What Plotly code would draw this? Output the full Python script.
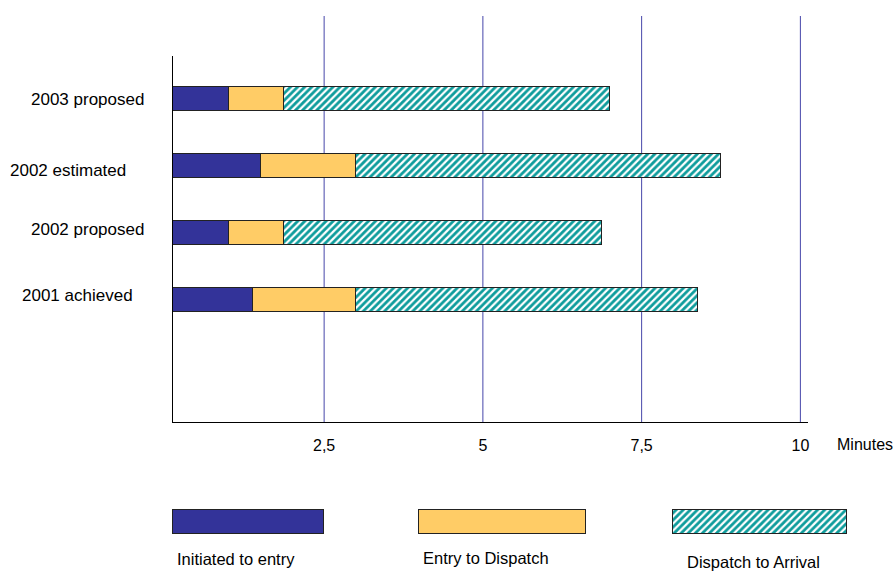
import plotly.graph_objects as go

W, H = 893, 572

categories = ["2001 achieved", "2002 proposed", "2002 estimated", "2003 proposed"]
initiated_to_entry = [1.38, 1.0, 1.5, 1.0]
entry_to_dispatch = [1.62, 0.87, 1.5, 0.87]
dispatch_to_arrival = [5.39, 5.0, 5.75, 5.13]
series_names = ["Initiated to entry", "Entry to Dispatch", "Dispatch to Arrival"]
tick_values = [2.5, 5, 7.5, 10]
tick_labels = ["2,5", "5", "7,5", "10"]
axis_unit = "Minutes"

FONT = "Liberation Sans, Arial, sans-serif"
BLUE = "#333399"
YELLOW = "#FFCC66"
TEAL = "#0E9C9C"
OUTLINE = "#222222"

def px_x(p):
    return p / W

def px_y(p):
    return (H - p) / H

fig = go.Figure()

styles = [
    dict(color=BLUE, line=dict(color=OUTLINE, width=1)),
    dict(color=YELLOW, line=dict(color=OUTLINE, width=1)),
    dict(color="white", line=dict(color=OUTLINE, width=1),
         pattern=dict(shape="/", fgcolor=TEAL, bgcolor="white", fgopacity=1,
                      size=5, solidity=0.55)),
]

for name, vals, st in zip(series_names,
                          [initiated_to_entry, entry_to_dispatch, dispatch_to_arrival],
                          styles):
    fig.add_trace(go.Bar(
        y=categories, x=vals, name=name, orientation="h",
        marker=st, width=0.36, showlegend=False, hoverinfo="x+name",
    ))

# Custom legend: swatches drawn as bars on a hidden pixel-scaled axis pair
legend_boxes = [(173, 324), (419, 586), (673, 847)]
for name, st, (x0, x1) in zip(series_names, styles, legend_boxes):
    fig.add_trace(go.Bar(
        y=[522], x=[x1 - x0], base=[x0], orientation="h", width=24,
        marker=st, xaxis="x2", yaxis="y2", showlegend=False, hoverinfo="skip",
    ))

legend_label_pos = [(175, 559), (421, 558), (685, 562)]
annotations = []
for name, (lx, ly) in zip(series_names, legend_label_pos):
    annotations.append(dict(
        text=name, x=px_x(lx), y=px_y(ly), xref="paper", yref="paper",
        xanchor="left", yanchor="middle", showarrow=False,
        font=dict(family=FONT, size=16.5, color="black"),
    ))

# Category labels (placed individually like the original)
label_right = [135, 146, 128, 146]
label_shift = [4, 3, -4.5, 0]
for cat, rx, sh in zip(categories, label_right, label_shift):
    annotations.append(dict(
        text=cat, x=px_x(rx), y=cat, xref="paper", yref="y",
        xanchor="right", yanchor="middle", yshift=sh, showarrow=False,
        font=dict(family=FONT, size=17, color="black"),
    ))

annotations.append(dict(
    text=axis_unit, x=px_x(835), y=px_y(445), xref="paper", yref="paper",
    xanchor="left", yanchor="middle", showarrow=False,
    font=dict(family=FONT, size=16, color="black"),
))

shapes = []
for tv in tick_values:
    shapes.append(dict(
        type="line", xref="x", yref="paper", x0=tv, x1=tv,
        y0=px_y(422), y1=px_y(16), line=dict(color="#4646AA", width=1),
        layer="below",
    ))

fig.update_layout(
    width=W, height=H,
    margin=dict(l=0, r=0, t=0, b=0),
    paper_bgcolor="white", plot_bgcolor="rgba(0,0,0,0)",
    barmode="stack", bargap=0,
    font=dict(family=FONT, size=16, color="black"),
    xaxis=dict(
        domain=[px_x(173), px_x(808)], range=[0.12, 10.12],
        tickvals=tick_values, ticktext=tick_labels,
        showgrid=False, zeroline=False, showline=True,
        linecolor="black", linewidth=1, ticks="",
        ticklabelstandoff=9,
        tickfont=dict(family=FONT, size=16, color="black"),
    ),
    yaxis=dict(
        domain=[px_y(422), px_y(56)], type="category",
        categoryorder="array", categoryarray=categories,
        range=[-1.83, 3.645], showticklabels=False, showgrid=False,
        zeroline=False, showline=True, linecolor="black", linewidth=1, ticks="",
    ),
    xaxis2=dict(domain=[0, 1], range=[0, W], visible=False, anchor="y2", fixedrange=True),
    yaxis2=dict(domain=[0, px_y(486)], range=[H, 486], visible=False, anchor="x2", fixedrange=True),
    shapes=shapes,
    annotations=annotations,
)

fig.write_html("out.html", config={"displayModeBar": False})

# remove the browser's default page margin so the figure fills the window exactly
with open("out.html", "r", encoding="utf-8") as f:
    html = f.read()
html = html.replace("<head>", "<head><style>html,body{margin:0;padding:0;overflow:hidden;}</style>", 1)
with open("out.html", "w", encoding="utf-8") as f:
    f.write(html)
